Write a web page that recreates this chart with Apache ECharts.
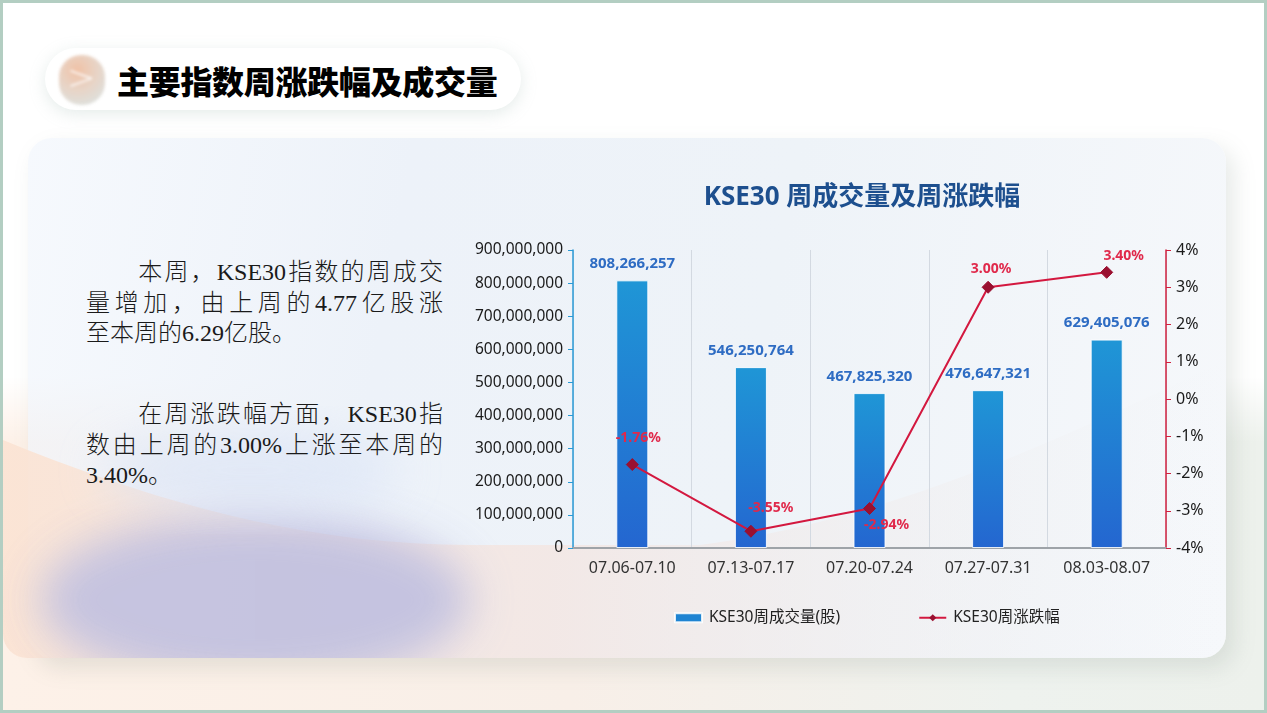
<!DOCTYPE html>
<html>
<head>
<meta charset="utf-8">
<script src="https://cdn.jsdelivr.net/npm/echarts@6/dist/echarts.min.js"></script>
<style>
	html, body { margin: 0; padding: 0; }
	body { width: 1267px; height: 713px; overflow: hidden; position: relative; background: #fff; font-family: 'Noto Sans CJK SC', sans-serif; }
	.frame { position: absolute; left: 0; top: 0; width: 1261px; height: 707px; border: 3px solid #b3cec2;
		background: linear-gradient(90deg, #fdf1e8 0%, #f8efe8 45%, #eef2ee 80%, #edf1ec 100%); }
	.top { position: absolute; left: 3px; top: 3px; width: 1261px; height: 440px; background: linear-gradient(180deg, #fff 85%, rgba(255,255,255,0) 100%); }
	.bg { position: absolute; left: 0; top: 0; }
	.card { position: absolute; left: 28px; top: 138px; width: 1198px; height: 520px; border-radius: 24px;
		background: linear-gradient(100deg, rgba(240,245,252,0.6) 0%, #edf2f9 30%, #eef3f8 60%, #f6f8fb 100%);
		box-shadow: 8px 10px 22px rgba(120,140,130,0.18); }
	.head { position: absolute; left: 45px; top: 48px; width: 476px; height: 62px; border-radius: 31px; background: #fff;
		box-shadow: 0 4px 16px rgba(150,180,170,0.25); }
	.icon { position: absolute; left: 14px; top: 7px; width: 46px; height: 50px; border-radius: 22px;
		background: radial-gradient(circle at 40% 30%, #eeb898 0%, #e4cdbd 45%, #d9dad5 80%); filter: blur(1.5px); opacity: 0.85; }
	.icon span { position: absolute; left: 8px; top: 2px; color: #fff; font-size: 34px; font-family: 'DejaVu Sans'; font-weight: 300; }
	.head h1 { position: absolute; left: 72px; top: 0; margin: 0; line-height: 64px; font-size: 32px; font-weight: 900; color: #000; letter-spacing: -0.3px; }
	.txt { position: absolute; left: 86px; width: 357px; font-family: 'Noto Sans CJK SC', serif; font-weight: 300; font-size: 24px; line-height: 27.5px; color: #1a1a1a; }
	.txt div { text-align: justify; text-align-last: justify; white-space: nowrap; }
	.txt div.last { text-align-last: left; }
	.txt .en { font-family: 'Liberation Serif', serif; font-weight: normal; }
	#chart { position: absolute; left: 0; top: 0; width: 1267px; height: 713px; }
</style>
</head>
<body>
<div class="frame"></div>
<div class="top"></div>
<div class="card"></div>
<svg class="bg" width="1267" height="713">
	<defs>
		<filter id="bl" x="-30%" y="-30%" width="160%" height="160%"><feGaussianBlur stdDeviation="22"/></filter>
		<clipPath id="cardClip"><rect x="3" y="138" width="1223" height="520" rx="24"/></clipPath>
		<linearGradient id="peach" x1="0" y1="0" x2="1" y2="0">
			<stop offset="0" stop-color="#fbe3d3"/>
			<stop offset="0.45" stop-color="#f3e7e4"/>
			<stop offset="1" stop-color="#eef0f2" stop-opacity="0"/>
		</linearGradient>
	</defs>
	<g clip-path="url(#cardClip)">
		<path d="M3,440 C150,500 300,545 470,545 L700,545 C900,520 1100,420 1226,360 L1226,660 L3,660 Z" fill="url(#peach)" opacity="0.9"/>
		<ellipse cx="255" cy="600" rx="215" ry="85" fill="#c0c0e0" filter="url(#bl)" opacity="0.9"/>
		<ellipse cx="250" cy="470" rx="150" ry="40" fill="#d9e3f6" filter="url(#bl)" opacity="0.6"/>
	</g>
</svg>
<div class="head">
	<div class="icon"><span>&gt;</span></div>
	<h1>主要指数周涨跌幅及成交量</h1>
</div>
<div class="txt" style="top:256px">
	<div>&#12288;&#12288;本周，<span class="en">KSE30</span>指数的周成交</div>
	<div>量增加，由上周的<span class="en">4.77</span>亿股涨</div>
	<div class="last">至本周的<span class="en">6.29</span>亿股。</div>
</div>
<div class="txt" style="top:398px">
	<div>&#12288;&#12288;在周涨跌幅方面，<span class="en">KSE30</span>指</div>
	<div>数由上周的<span class="en">3.00%</span>上涨至本周的</div>
	<div class="last"><span class="en">3.40%</span>。</div>
</div>
<div id="chart"></div>
<script>
	let weeks = ['07.06-07.10', '07.13-07.17', '07.20-07.24', '07.27-07.31', '08.03-08.07']
	let volume = [808266257, 546250764, 467825320, 476647321, 629405076] //周成交量(股)
	let change = [-1.76, -3.55, -2.94, 3.0, 3.4] //周涨跌幅 %
	//每个点标签的偏移
	let labelPos = [
		{ position: 'top', offset: [6, -8] },
		{ position: 'top', offset: [20, -5] },
		{ position: 'bottom', offset: [17, -2] },
		{ position: 'top', offset: [3, 0] },
		{ position: 'top', offset: [17, 2] }
	]

	let font = "'Noto Sans', 'Noto Sans CJK SC', sans-serif"

	function fmtNum(v) {
		return String(v).replace(/\B(?=(\d{3})+(?!\d))/g, ',')
	}

	let lineData = change.map((v, i) => ({
		value: v,
		label: labelPos[i]
	}))

	var option = {
		backgroundColor: 'transparent',
		textStyle: { fontFamily: font },
		title: {
			text: 'KSE30 周成交量及周涨跌幅',
			left: 857,
			top: 180,
			textAlign: 'center',
			textStyle: {
				color: '#1d4f8e',
				fontFamily: font,
				fontSize: 26,
				fontWeight: 'bold'
			}
		},
		legend: {
			left: 669,
			top: 605,
			itemGap: 78,
			itemWidth: 27,
			itemHeight: 9,
			textStyle: { color: '#222', fontSize: 15.5, fontFamily: font, padding: [0, 0, 0, 2] },
			data: [
				{ name: 'KSE30周成交量(股)', icon: 'rect', itemStyle: { color: '#1f84d2' } },
				{ name: 'KSE30周涨跌幅' }
			]
		},
		grid: {
			left: 573,
			right: 101,
			top: 250,
			bottom: 165
		},
		xAxis: {
			type: 'category',
			data: weeks,
			axisTick: { show: false },
			axisLine: { lineStyle: { color: '#9ea3a8', width: 2 } },
			axisLabel: { color: '#333', fontSize: 16, margin: 12, fontFamily: font },
			splitLine: { show: true, lineStyle: { color: '#d3d9e1', width: 1 } }
		},
		yAxis: [
			{
				type: 'value',
				min: 0,
				max: 900000000,
				interval: 100000000,
				axisLine: { show: true, lineStyle: { color: '#2a9ad6', width: 1.5 } },
				axisTick: { show: true, length: 5, lineStyle: { color: '#2a9ad6' } },
				splitLine: { show: false },
				axisLabel: {
					color: '#1a1a1a',
					fontSize: 15.5,
					margin: 10,
					fontFamily: font,
					formatter: fmtNum
				}
			},
			{
				type: 'value',
				min: -4,
				max: 4,
				interval: 1,
				position: 'right',
				axisLine: { show: true, lineStyle: { color: '#d0213f', width: 1.5 } },
				axisTick: { show: true, length: 5, lineStyle: { color: '#d0213f' } },
				splitLine: { show: false },
				axisLabel: {
					color: '#1a1a1a',
					fontSize: 16,
					margin: 10,
					fontFamily: font,
					formatter: '{value}%'
				}
			}
		],
		series: [
			{
				name: 'KSE30周成交量(股)',
				type: 'bar',
				barWidth: 32,
				data: volume,
				itemStyle: {
					color: new echarts.graphic.LinearGradient(0, 0, 0, 1, [
						{ offset: 0, color: '#1f96d6' },
						{ offset: 1, color: '#2466d0' }
					]),
					borderColor: 'rgba(255,255,255,0.85)',
					borderWidth: 1
				},
				label: {
					show: true,
					position: 'top',
					distance: 9,
					color: '#2e6cc3',
					fontSize: 15,
					fontWeight: 'bold',
					fontFamily: font,
					formatter: p => fmtNum(p.value)
				}
			},
			{
				name: 'KSE30周涨跌幅',
				type: 'line',
				yAxisIndex: 1,
				data: lineData,
				symbol: 'diamond',
				symbolSize: 12,
				lineStyle: { color: '#d3183f', width: 2 },
				itemStyle: { color: '#9a1030', borderColor: '#9a1030' },
				label: {
					show: true,
					color: '#e0294b',
					fontSize: 14,
					fontWeight: 'bold',
					fontFamily: font,
					formatter: p => p.value.toFixed(2) + '%'
				},
				z: 5
			}
		]
	}

	var myChart = echarts.init(document.getElementById('chart'))
	myChart.setOption(option)
</script>
</body>
</html>
